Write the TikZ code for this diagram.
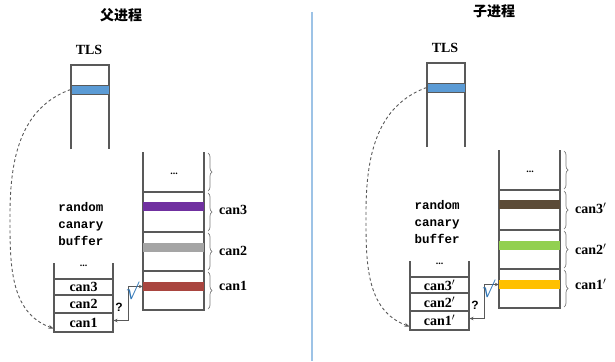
\documentclass[tikz,border=0pt]{standalone}
\usepackage{fontspec}
\setmainfont{Liberation Serif}
\setsansfont{Liberation Sans}
\setmonofont{Liberation Mono}
\newfontfamily\cjk{Noto Sans CJK SC}
\usetikzlibrary{decorations.pathreplacing,arrows.meta}
\definecolor{linec}{HTML}{595959}
\definecolor{tlsblue}{HTML}{5B9BD5}
\definecolor{cpurple}{HTML}{7030A0}
\definecolor{cgrey}{HTML}{A5A5A5}
\definecolor{cred}{HTML}{A9453F}
\definecolor{cbrown}{HTML}{5C4B37}
\definecolor{cgreen}{HTML}{92D050}
\definecolor{cyellow}{HTML}{FFC000}
\definecolor{sepblue}{HTML}{9DC3E6}
\definecolor{checkblue}{HTML}{2E75B6}
\tikzset{
  ln/.style={draw=linec, line width=1.1pt},
  band/.style={inner sep=0pt, minimum width=61pt, minimum height=9pt},
  tlsband/.style={inner sep=0pt, minimum width=38pt, minimum height=9pt, fill=tlsblue, draw=linec, line width=0.8pt},
  lbl/.style={font=\fontsize{14}{16}\selectfont\bfseries, inner sep=1pt},
  cell/.style={draw=linec, line width=1.1pt, minimum width=59pt, inner sep=0pt, font=\fontsize{14}{16}\selectfont\bfseries},
  dotsn/.style={font=\fontsize{10}{12}\selectfont\bfseries, inner sep=0pt},
  bracep/.style={draw=linec!80, line width=0.7pt, decorate, decoration={brace, amplitude=4pt}},
  arr/.style={ln, {Stealth[length=4pt,width=3.5pt]}-{Stealth[length=4pt,width=3.5pt]}},
  dasharr/.style={ln, line width=0.9pt, dash pattern=on 3pt off 2.5pt, -{Stealth[length=5pt,width=4pt]}},
  mono/.style={font=\fontsize{12.5}{17}\selectfont\ttfamily\bfseries, align=center, inner sep=0pt},
  title/.style={font=\fontsize{14}{16}\selectfont\cjk\bfseries, inner sep=0pt},
  okmark/.style={font=\fontsize{22}{24}\selectfont\bfseries, text=checkblue, inner sep=0pt, xslant=0.15}
}
\newcommand\drawpanel[5]{%
  % TLS
  \node[lbl] (#1tlst) at (89,50) {TLS};
  \draw[ln] (71,149) -- (71,65) -- (109,65) -- (109,149);
  \node[tlsband] (#1tls) at (90,89.5) {};
  % big stack
  \draw[ln] (143,152) -- (143,310) -- (204,310) -- (204,152);
  \foreach \yy in {192,232,271} \draw[ln] (143,\yy) -- (204,\yy);
  \node[dotsn] (#1bdots) at (174,174) {...};
  \node[band, fill=#2] (#1b3) at (173.5,206.5) {};
  \node[band, fill=#3] (#1b2) at (173.5,247) {};
  \node[band, fill=#4] (#1b1) at (173.5,286.5) {};
  \draw[bracep] (208,153) -- (208,191);
  \draw[bracep] (208,193) -- (208,231);
  \draw[bracep] (208,233) -- (208,270);
  \draw[bracep] (208,272) -- (208,309);
  \node[lbl, anchor=west] (#1l3) at (218,210) {can3#5};
  \node[lbl, anchor=west] (#1l2) at (218,251) {can2#5};
  \node[lbl, anchor=west] (#1l1) at (218,286) {can1#5};
  % text
  \node[mono] (#1txt) at (81,224) {random\\canary\\buffer};
  % small stack
  \draw[ln] (54,263) -- (54,279);
  \draw[ln] (113,263) -- (113,279);
  \node[dotsn] (#1sdots) at (83.5,266) {...};
  \node[cell, minimum height=16pt] (#1s3) at (83.5,287) {can3#5};
  \node[cell, minimum height=18pt] (#1s2) at (83.5,304) {can2#5};
  \node[cell, minimum height=19pt] (#1s1) at (83.5,322.5) {can1#5};
  % connectors
  \draw[arr] ([yshift=2pt]#1s1.east) -- ++(15,0) |- (#1b1.west);
  \node[font=\fontsize{12}{13}\selectfont\sffamily\bfseries, inner sep=0pt] (#1q) at (119,307) {?};
  \node[okmark] (#1ok) at (132.5,291) {√};
  \coordinate (#1mid) at (10,215);
  \draw[dasharr] (#1tls.west) to[out=200,in=90] (#1mid) to[out=270,in=160] ([yshift=-6pt]#1s1.west);
}
\begin{document}
\begin{tikzpicture}[x=1pt,y=-1pt]
\useasboundingbox (0,0) rectangle (615,361);
\node[title] (t1) at (121,15) {父进程};
\node[title] (t2) at (494,11) {子进程};
\coordinate (septop) at (312,12);
\coordinate (sepbot) at (312,361);
\draw[sepblue, line width=1.6pt] (septop) -- (sepbot);
\drawpanel{L}{cpurple}{cgrey}{cred}{}
\begin{scope}[xshift=356pt, yshift=2pt]
\drawpanel{R}{cbrown}{cgreen}{cyellow}{$'$}
\end{scope}
\end{tikzpicture}
\end{document}
